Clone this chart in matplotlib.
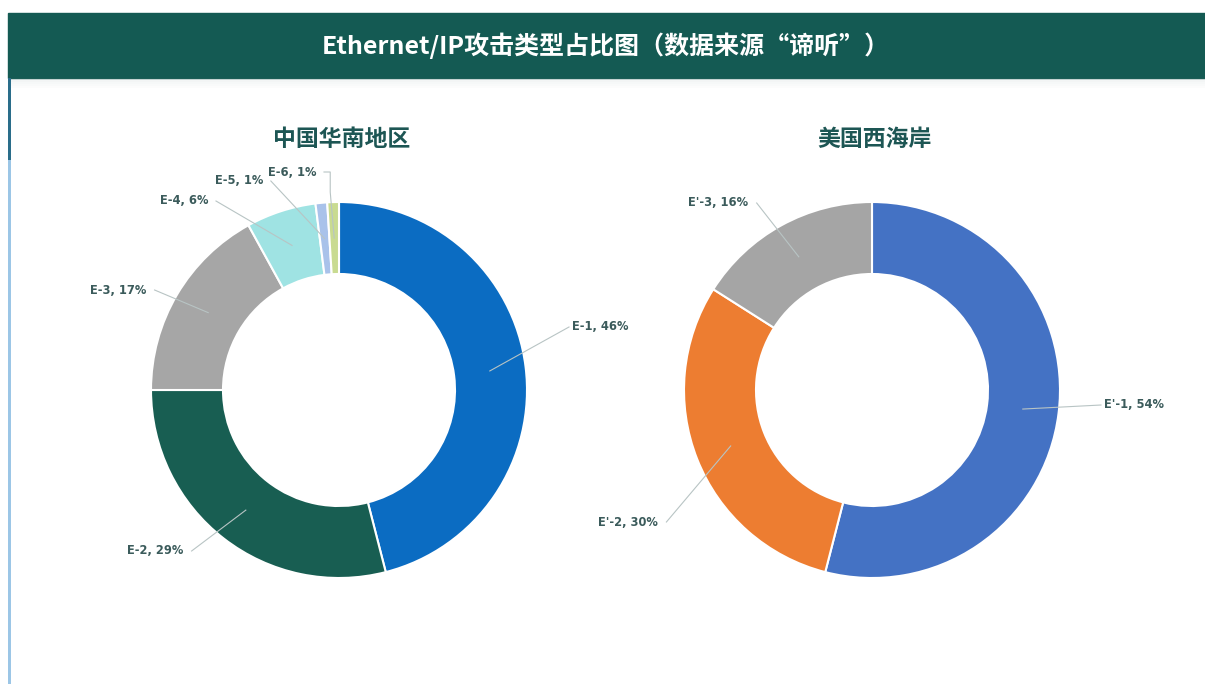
import matplotlib.pyplot as plt
import matplotlib.patches as mpatches
import numpy as np

plt.rcParams['font.family'] = ['Noto Sans CJK SC', 'DejaVu Sans']

W, H = 1205, 684

title = "Ethernet/IP攻击类型占比图（数据来源“谛听”）"

# left donut: 中国华南地区
south_labels = ["E-1", "E-2", "E-3", "E-4", "E-5", "E-6"]
south_values = [46, 29, 17, 6, 1, 1]
south_colors = ["#0b6cc2", "#185e52", "#a6a6a6", "#9fe3e3", "#a9c2ea", "#c9db91"]
# label text positions (pixels, left edge / vertical centre)
south_text_pos = [(572, 327), (127, 551), (90, 290), (160, 201), (215, 181), (268, 172)]

# right donut: 美国西海岸
west_labels = ["E'-1", "E'-2", "E'-3"]
west_values = [54, 30, 16]
west_colors = ["#4472c4", "#ed7d31", "#a5a5a5"]
west_text_pos = [(1104, 405), (598, 522), (688, 203)]

R_OUT, R_IN = 188, 116
TEXT_C = "#3b5b5b"


def fy(y):
    return H - y


fig = plt.figure(figsize=(W / 100, H / 100), dpi=100)
ax = fig.add_axes([0, 0, 1, 1])

# header banner + panel frame
ax.add_patch(mpatches.Rectangle((8, fy(78)), W - 8, 65, color="#145a53", zorder=1))
for i, a in enumerate([0.10, 0.07, 0.05, 0.03, 0.015]):
    ax.add_patch(mpatches.Rectangle((11, fy(78 + 2 * (i + 1))), W - 11, 2,
                                    color="#5a7a7a", alpha=a, lw=0, zorder=1))
ax.add_patch(mpatches.Rectangle((8, 0), 3, fy(78), color="#9cc6e6", lw=0, zorder=1))
ax.add_patch(mpatches.Rectangle((8, fy(160)), 3, 82, color="#2a6d8a", lw=0, zorder=1))
ax.text(606, fy(46), title, color="white", fontsize=18, fontweight="bold",
        ha="center", va="center", zorder=2)


def donut(cx, cy, labels, values, colors, text_pos, heading, side_text):
    ax.pie(values, colors=colors, center=(cx, fy(cy)), radius=R_OUT,
           startangle=90, counterclock=False, frame=True,
           wedgeprops=dict(width=R_OUT - R_IN, edgecolor="white", linewidth=1.5))
    ax.text(cx + 3, fy(139), heading, color="#1d5654", fontsize=16.5, fontweight="bold",
            ha="center", va="center")
    total = sum(values)
    cum = 0
    r_mid = (R_OUT + R_IN) / 2
    for lab, v, (tx, ty), side in zip(labels, values, text_pos, side_text):
        ang = np.deg2rad(90 - (cum + v / 2) / total * 360)
        cum += v
        px, py = cx + r_mid * np.cos(ang), fy(cy) + r_mid * np.sin(ang)
        txt = f"{lab}, {v}%"
        t = ax.text(tx, fy(ty), txt, color=TEXT_C, fontsize=8.3, fontweight="bold",
                    ha="left", va="center", family=["DejaVu Sans"])
        fig.canvas.draw()
        bb = t.get_window_extent().transformed(ax.transData.inverted())
        ex = bb.x0 - 3 if side == "r" else bb.x1 + 3
        if side == "top":
            ax.plot([bb.x1 + 3, px - 4, px - 4, px], [fy(ty), fy(ty), fy(ty) - 20, py],
                    color="#b8c4c4", lw=0.8, zorder=3)
        else:
            ax.plot([ex, px], [fy(ty), py], color="#b8c4c4", lw=0.8, zorder=3)


donut(339, 390, south_labels, south_values, south_colors, south_text_pos,
      "中国华南地区", ["r", "l", "l", "l", "l", "top"])
donut(872, 390, west_labels, west_values, west_colors, west_text_pos,
      "美国西海岸", ["r", "l", "l"])

ax.set_xlim(0, W)
ax.set_ylim(0, H)
ax.set_aspect("equal")
ax.axis("off")

fig.savefig("out.png", dpi=100, facecolor="white")
